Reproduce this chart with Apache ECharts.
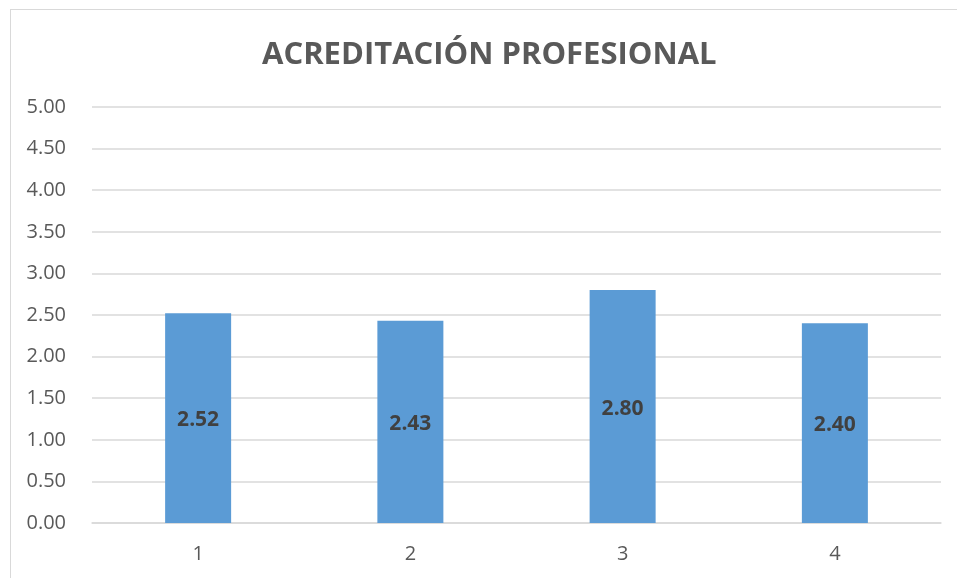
<!DOCTYPE html>
<html>
<head>
<meta charset="utf-8">
<script src="https://cdn.jsdelivr.net/npm/echarts@6/dist/echarts.min.js"></script>
<style>
html,body{margin:0;padding:0;background:#fff;}
#frame{position:absolute;left:10px;top:9px;width:1000px;height:700px;border:1px solid #d9d9d9;box-sizing:border-box;}
#chart{position:absolute;left:0;top:0;width:957px;height:578px;}
</style>
</head>
<body>
<div id="frame"></div>
<div id="chart"></div>
<script>
const categories = ['1', '2', '3', '4'];
const values = [2.52, 2.43, 2.80, 2.40];
const titleText = 'ACREDITACIÓN PROFESIONAL';

const chart = echarts.init(document.getElementById('chart'));
chart.setOption({
  animation: false,
  title: {
    text: titleText,
    left: 257,
    top: 35,
    textStyle: { fontFamily: 'Open Sans', fontWeight: 'bold', fontSize: 31, color: '#595959' }
  },
  grid: { left: 92, right: 16, top: 107, bottom: 55 },
  xAxis: {
    type: 'category',
    data: categories,
    axisLine: { lineStyle: { color: '#d9d9d9', width: 1.5 } },
    axisTick: { show: false },
    axisLabel: { fontFamily: 'Open Sans', fontSize: 20, color: '#595959', margin: 21 }
  },
  yAxis: {
    type: 'value',
    min: 0, max: 5, interval: 0.5,
    axisLine: { show: false },
    axisTick: { show: false },
    splitLine: { lineStyle: { color: '#d9d9d9', width: 1.5 } },
    axisLabel: { fontFamily: 'Open Sans', fontSize: 20, color: '#595959', margin: 26,
      formatter: v => v.toFixed(2) }
  },
  series: [{
    type: 'bar',
    data: values,
    barWidth: 66,
    itemStyle: { color: '#5b9bd5' },
    label: {
      show: true, position: 'inside', offset: [0, 2],
      fontFamily: 'Open Sans', fontWeight: 'bold', fontSize: 21, color: '#404040',
      formatter: p => p.value.toFixed(2)
    }
  }]
});
</script>
</body>
</html>
